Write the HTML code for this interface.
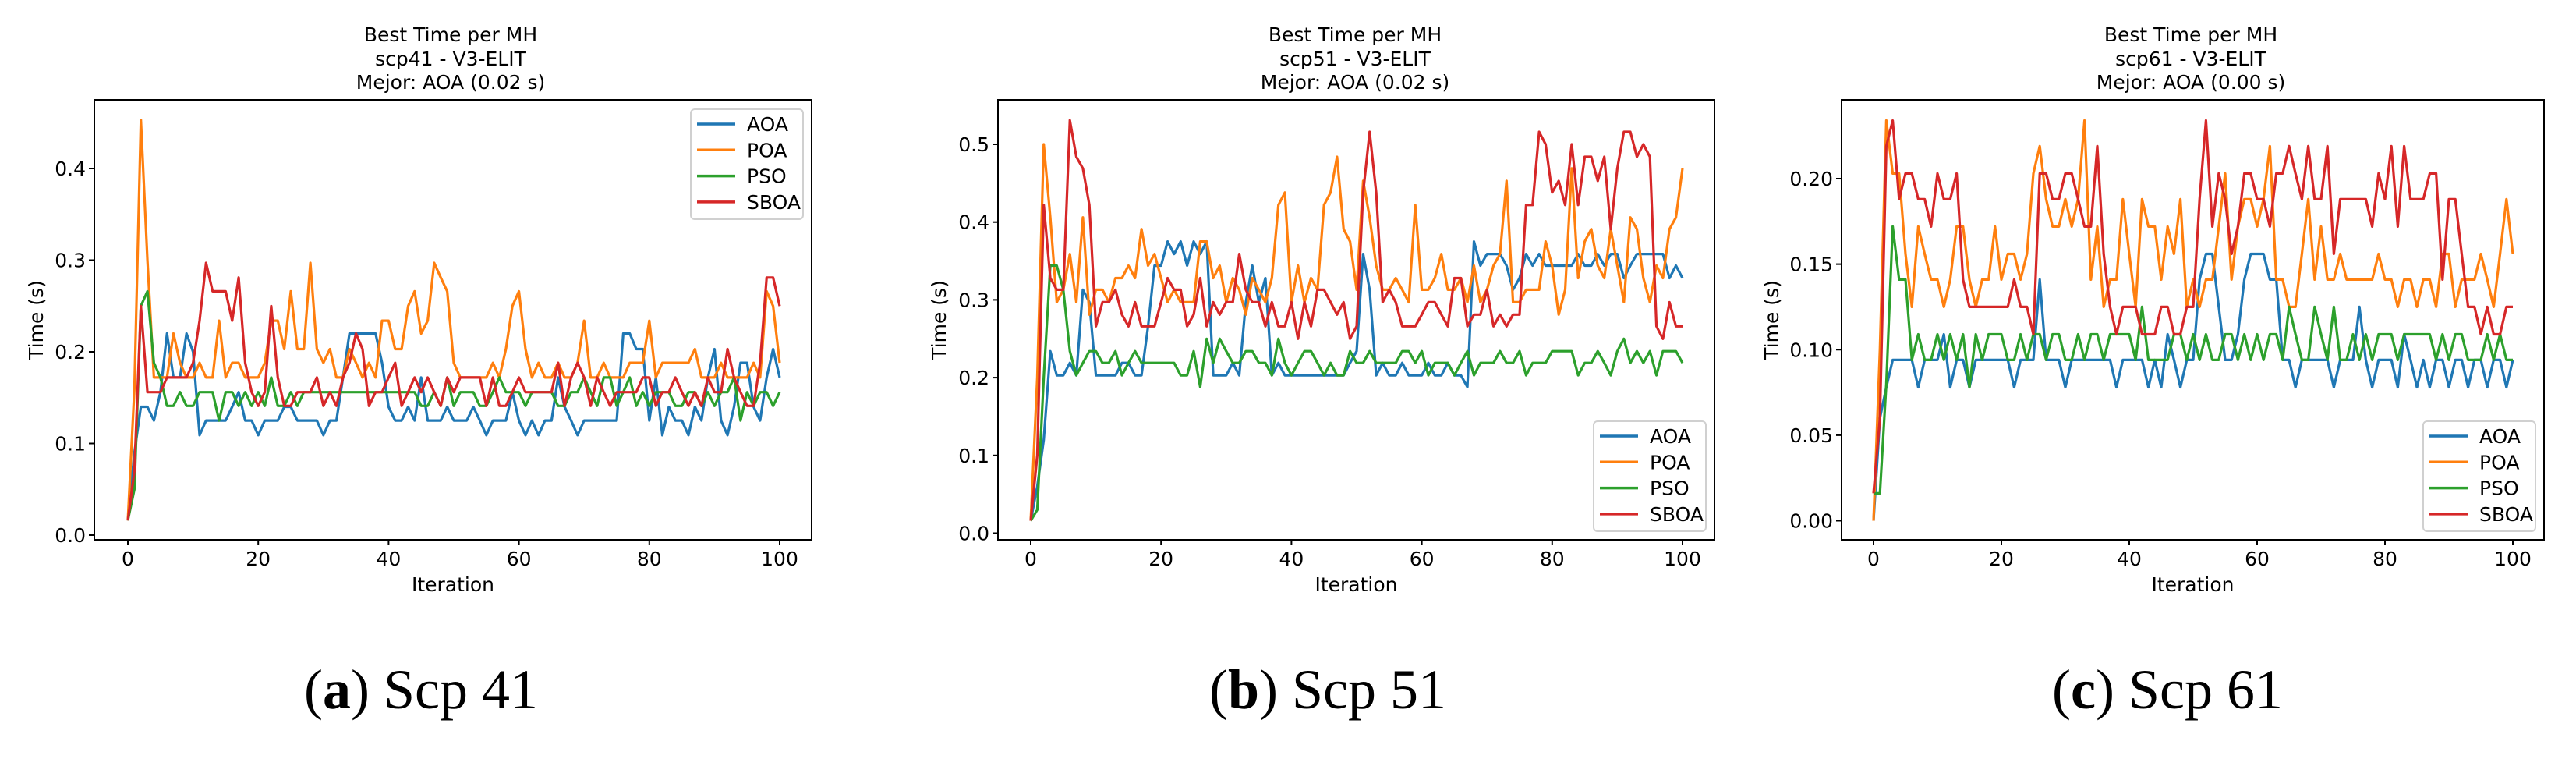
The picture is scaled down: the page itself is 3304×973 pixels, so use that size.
<!DOCTYPE html>
<html><head><meta charset="utf-8"><style>
html,body{margin:0;padding:0;background:#fff;}
svg{display:block;}
text{font-family:"DejaVu Sans","Liberation Sans",sans-serif;fill:#000;}
.cap{font-family:"Liberation Serif",serif;font-size:72px;}
</style></head><body>
<svg id="fig" width="3304" height="973" viewBox="0 0 3304 973" xmlns="http://www.w3.org/2000/svg">
<text class="cap" x="540" y="908" text-anchor="middle">(<tspan font-weight="bold">a</tspan>) Scp 41</text>
<text class="cap" x="1703" y="908" text-anchor="middle">(<tspan font-weight="bold">b</tspan>) Scp 51</text>
<text class="cap" x="2780" y="908" text-anchor="middle">(<tspan font-weight="bold">c</tspan>) Scp 61</text>
</svg>
<script>
const seriesNames = ["AOA","POA","PSO","SBOA"];
const xTickLabels = [0,20,40,60,80,100];
// chart 1 (scp41)
const c1Titles = ["Best Time per MH","scp41 - V3-ELIT","Mejor: AOA (0.02 s)"];
const c1YTicks = [0.0,0.1,0.2,0.3,0.4];
const c1AOA = [.016,.09,.14,.14,.125,.156,.22,.172,.172,.22, .2,.109,.125,.125,.125,.125,.14,.156,.125,.125, .109,.125,.125,.125,.14,.14,.125,.125,.125,.125, .109,.125,.125,.172,.22,.22,.22,.22,.22,.188, .14,.125,.125,.14,.125,.172,.125,.125,.125,.14, .125,.125,.125,.14,.125,.109,.125,.125,.125,.156, .125,.109,.125,.109,.125,.125,.172,.14,.125,.109, .125,.125,.125,.125,.125,.125,.22,.22,.203,.203, .125,.172,.109,.14,.125,.125,.109,.14,.125,.172, .203,.125,.109,.14,.188,.188,.14,.125,.172,.203,.172];
const c1POA = [.016,.16,.453,.3,.172,.172,.172,.22,.188,.172, .172,.188,.172,.172,.234,.172,.188,.188,.172,.172, .172,.188,.234,.234,.203,.266,.203,.203,.297,.203, .188,.203,.172,.172,.203,.188,.172,.188,.172,.234, .234,.203,.203,.25,.266,.22,.234,.297,.281,.266, .188,.172,.172,.172,.172,.172,.188,.172,.203,.25, .266,.203,.172,.188,.172,.172,.188,.172,.172,.188, .234,.172,.172,.188,.172,.172,.172,.188,.188,.188, .234,.172,.188,.188,.188,.188,.188,.203,.172,.172, .172,.188,.172,.172,.172,.172,.188,.172,.266,.25,.188];
const c1PSO = [.016,.05,.25,.266,.188,.172,.141,.141,.156,.141, .141,.156,.156,.156,.125,.156,.156,.141,.156,.141, .156,.141,.172,.141,.141,.156,.141,.156,.156,.156, .156,.156,.156,.156,.156,.156,.156,.156,.156,.156, .156,.156,.156,.156,.156,.141,.141,.156,.141,.172, .141,.156,.156,.156,.141,.141,.156,.172,.156,.156, .156,.141,.156,.156,.156,.156,.141,.141,.156,.156, .172,.156,.141,.172,.172,.141,.156,.172,.141,.156, .141,.156,.156,.156,.141,.141,.156,.156,.141,.156, .141,.156,.156,.172,.125,.156,.141,.156,.156,.141,.156];
const c1SBOA = [.016,.07,.25,.156,.156,.156,.172,.172,.172,.172, .188,.234,.297,.266,.266,.266,.234,.281,.188,.156, .141,.156,.25,.172,.141,.141,.156,.156,.156,.172, .141,.156,.141,.172,.188,.22,.203,.141,.156,.156, .172,.188,.141,.156,.172,.156,.172,.156,.141,.172, .156,.172,.172,.172,.172,.141,.172,.141,.141,.156, .172,.156,.156,.156,.156,.156,.188,.141,.172,.188, .172,.141,.172,.156,.141,.156,.156,.156,.156,.172, .172,.141,.156,.156,.172,.156,.141,.156,.141,.172, .156,.156,.203,.172,.156,.141,.141,.188,.281,.281,.25];
// chart 2 (scp51)
const c2Titles = ["Best Time per MH","scp51 - V3-ELIT","Mejor: AOA (0.02 s)"];
const c2YTicks = [0.0,0.1,0.2,0.3,0.4,0.5];
const c2AOA = [.016,.06,.12,.234,.203,.203,.219,.203,.313,.297, .203,.203,.203,.203,.219,.219,.203,.203,.266,.344, .344,.375,.359,.375,.344,.375,.359,.375,.203,.203, .203,.219,.203,.297,.344,.297,.328,.203,.219,.203, .203,.203,.203,.203,.203,.203,.203,.203,.203,.219, .234,.359,.313,.203,.219,.203,.203,.219,.203,.203, .203,.219,.203,.203,.219,.203,.203,.188,.375,.344, .359,.359,.359,.344,.313,.328,.359,.344,.359,.344, .344,.344,.344,.344,.359,.344,.344,.359,.344,.359, .359,.328,.344,.359,.359,.359,.359,.359,.328,.344,.328];
const c2POA = [.016,.2,.5,.406,.297,.313,.359,.297,.406,.281, .313,.313,.297,.328,.328,.344,.328,.391,.344,.359, .328,.297,.313,.297,.297,.297,.375,.375,.328,.344, .297,.328,.313,.281,.328,.313,.297,.328,.422,.438, .297,.344,.297,.328,.313,.422,.438,.484,.391,.375, .313,.453,.406,.344,.313,.313,.328,.313,.297,.422, .313,.313,.328,.359,.313,.313,.328,.297,.344,.297, .313,.344,.359,.453,.297,.297,.313,.313,.313,.375, .344,.281,.313,.469,.328,.375,.391,.344,.328,.391, .344,.297,.406,.391,.328,.297,.344,.328,.391,.406,.469];
const c2PSO = [.016,.03,.2,.344,.344,.313,.234,.203,.219,.234, .234,.219,.219,.234,.203,.219,.234,.219,.219,.219, .219,.219,.219,.203,.203,.234,.188,.25,.219,.25, .234,.219,.219,.234,.234,.219,.219,.203,.25,.219, .203,.219,.234,.234,.219,.203,.219,.203,.203,.234, .219,.219,.234,.219,.219,.219,.219,.234,.234,.219, .234,.203,.219,.219,.219,.203,.219,.234,.203,.219, .219,.219,.234,.219,.219,.234,.203,.219,.219,.219, .234,.234,.234,.234,.203,.219,.219,.234,.219,.203, .234,.25,.219,.234,.219,.234,.203,.234,.234,.234,.219];
const c2SBOA = [.016,.1,.422,.328,.313,.313,.531,.484,.469,.422, .266,.297,.297,.313,.281,.266,.297,.266,.266,.266, .297,.328,.313,.313,.266,.281,.328,.266,.297,.281, .297,.297,.359,.313,.297,.297,.266,.297,.266,.266, .297,.25,.297,.266,.313,.313,.297,.281,.297,.25, .266,.438,.516,.438,.297,.313,.297,.266,.266,.266, .281,.297,.297,.281,.266,.328,.328,.266,.281,.281, .313,.266,.281,.266,.281,.281,.422,.422,.516,.5, .438,.453,.422,.5,.422,.484,.484,.453,.484,.391, .469,.516,.516,.484,.5,.484,.266,.25,.297,.266,.266];
// chart 3 (scp61)
const c3Titles = ["Best Time per MH","scp61 - V3-ELIT","Mejor: AOA (0.00 s)"];
const c3YTicks = [0.00,0.05,0.10,0.15,0.20];
const c3AOA = [0,.06,.078,.094,.094,.094,.094,.078,.094,.094, .094,.109,.078,.094,.094,.078,.094,.094,.094,.094, .094,.094,.078,.094,.094,.094,.141,.094,.094,.094, .078,.094,.094,.094,.094,.094,.094,.094,.078,.094, .094,.094,.094,.078,.094,.078,.109,.094,.078,.094, .094,.141,.156,.156,.125,.094,.094,.109,.141,.156, .156,.156,.141,.141,.094,.094,.078,.094,.094,.094, .094,.094,.078,.094,.094,.094,.125,.094,.078,.094, .094,.094,.078,.109,.094,.078,.094,.078,.094,.094, .078,.094,.094,.078,.094,.094,.078,.094,.094,.078,.094];
const c3POA = [0,.1,.234,.203,.203,.156,.125,.172,.156,.141, .141,.125,.141,.172,.172,.141,.125,.141,.141,.172, .141,.156,.156,.141,.156,.203,.219,.188,.172,.172, .188,.172,.188,.234,.141,.172,.125,.141,.141,.188, .156,.125,.188,.172,.172,.141,.172,.156,.188,.125, .141,.125,.141,.141,.172,.203,.141,.172,.188,.188, .172,.188,.219,.141,.141,.125,.125,.156,.188,.141, .172,.141,.141,.156,.141,.141,.141,.141,.141,.156, .141,.141,.125,.141,.141,.125,.141,.141,.125,.156, .156,.125,.141,.141,.141,.156,.141,.125,.156,.188,.156];
const c3PSO = [.016,.016,.08,.172,.141,.141,.094,.109,.094,.094, .109,.094,.109,.094,.109,.078,.109,.094,.109,.109, .109,.094,.094,.109,.094,.109,.109,.094,.109,.109, .094,.094,.109,.094,.109,.109,.094,.109,.109,.109, .109,.094,.125,.094,.094,.094,.094,.109,.109,.094, .109,.094,.109,.094,.094,.109,.109,.094,.109,.094, .109,.094,.109,.109,.094,.125,.109,.094,.094,.125, .109,.094,.125,.094,.094,.109,.094,.109,.094,.109, .109,.109,.094,.109,.109,.109,.109,.109,.094,.109, .094,.109,.109,.094,.094,.094,.109,.094,.109,.094,.094];
const c3SBOA = [.016,.06,.219,.234,.188,.203,.203,.188,.188,.172, .203,.188,.188,.203,.141,.125,.125,.125,.125,.125, .125,.125,.141,.125,.125,.109,.203,.203,.188,.188, .203,.203,.188,.172,.172,.219,.156,.125,.109,.125, .125,.125,.109,.109,.109,.125,.125,.109,.109,.125, .125,.188,.234,.172,.203,.188,.156,.172,.203,.203, .188,.188,.172,.203,.203,.219,.203,.188,.219,.188, .188,.219,.156,.188,.188,.188,.188,.188,.172,.203, .188,.219,.172,.219,.188,.188,.188,.203,.203,.141, .188,.188,.156,.125,.125,.109,.125,.109,.109,.125,.125];

const colors = ["#1f77b4","#ff7f0e","#2ca02c","#d62728"];
const NS = "http://www.w3.org/2000/svg";
const svg = document.getElementById('fig');
function mk(tag, attrs, parent){const e=document.createElementNS(NS,tag);for(const k in attrs)e.setAttribute(k,attrs[k]);(parent||svg).appendChild(e);return e;}

function drawChart(id, geo, titles, yTicks, series, yDigits){
  const g = mk('g',{});
  
  
  const xs = v => geo.x0 + (v/100)*(geo.x100-geo.x0);
  const ys = v => geo.yZero - (v/geo.yRefVal)*(geo.yZero-geo.yRef);
  // series
  series.forEach((arr,si)=>{
    const pts = arr.map((v,i)=>xs(i).toFixed(1)+','+ys(v).toFixed(1)).join(' ');
    const pl = mk('polyline',{points:pts,fill:'none',stroke:colors[si],'stroke-width':3.2,'stroke-linejoin':'round'},g);
    
    
  });
  // frame
  const fr = mk('rect',{x:geo.left,y:geo.top,width:geo.right-geo.left,height:geo.bottom-geo.top,fill:'none',stroke:'#000','stroke-width':2},g);
  
  
  // x ticks
  xTickLabels.forEach(t=>{
    const x = xs(t);
    mk('line',{x1:x,x2:x,y1:geo.bottom,y2:geo.bottom+7,stroke:'#000','stroke-width':2},g);
    const tx = mk('text',{x:x,y:geo.bottom+33,'text-anchor':'middle','font-size':25},g);
    tx.textContent = t;
    
    
  });
  yTicks.forEach(t=>{
    const y = ys(t);
    mk('line',{x1:geo.left-7,x2:geo.left,y1:y,y2:y,stroke:'#000','stroke-width':2},g);
    const tx = mk('text',{x:geo.left-11,y:y+9,'text-anchor':'end','font-size':25},g);
    tx.textContent = t.toFixed(yDigits);
    
    
  });
  const xl = mk('text',{x:(geo.left+geo.right)/2,y:758,'text-anchor':'middle','font-size':25},g);
  xl.textContent = 'Iteration';
  
  
  const cy = (geo.top+geo.bottom)/2;
  const yl = mk('text',{x:geo.ylx,y:cy,'text-anchor':'middle','font-size':25,transform:'rotate(-90 '+geo.ylx+' '+cy+')'},g);
  yl.textContent = 'Time (s)';
  
  
  titles.forEach((t,i)=>{
    const tt = mk('text',{x:geo.tcx,y:[53,84,114][i],'text-anchor':'middle','font-size':25},g);
    tt.textContent = t;
    
    
  });
  // legend
  const lg = mk('g',{},g);
  
  
  mk('rect',{x:geo.lgx,y:geo.lgy,width:144,height:141,rx:5,fill:'#fff','fill-opacity':0.8,stroke:'#d0d0d0','stroke-width':2},lg);
  seriesNames.forEach((n,i)=>{
    const y = geo.lgy+19+i*33.3;
    const ln = mk('line',{x1:geo.lgx+8,x2:geo.lgx+57,y1:y,y2:y,stroke:colors[i],'stroke-width':3.5},lg);
    
    
    const tx = mk('text',{x:geo.lgx+72,y:y+9,'font-size':25},lg);
    tx.textContent = n;
    
    
  });
}

drawChart('scp41',{left:121,right:1041,top:128,bottom:692,x0:164,x100:1000,yZero:686,yRef:216,yRefVal:0.4,ylx:55,tcx:578,lgx:886,lgy:140},c1Titles,c1YTicks,[c1AOA,c1POA,c1PSO,c1SBOA],1);
drawChart('scp51',{left:1280,right:2199,top:128,bottom:692,x0:1322,x100:2158,yZero:683.5,yRef:185,yRefVal:0.5,ylx:1213,tcx:1738,lgx:2044,lgy:540},c2Titles,c2YTicks,[c2AOA,c2POA,c2PSO,c2SBOA],1);
drawChart('scp61',{left:2362,right:3263,top:128,bottom:692,x0:2403,x100:3223,yZero:667.5,yRef:229,yRefVal:0.2,ylx:2281,tcx:2810,lgx:3108,lgy:540},c3Titles,c3YTicks,[c3AOA,c3POA,c3PSO,c3SBOA],2);
</script>
</body></html>
